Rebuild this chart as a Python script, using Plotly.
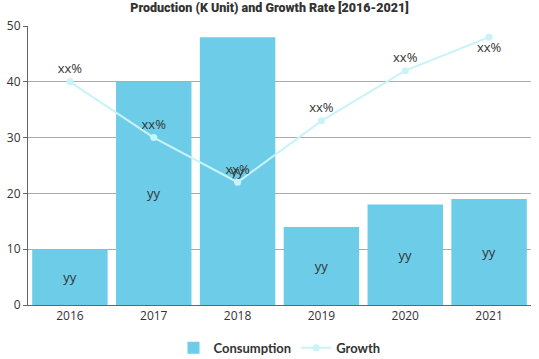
import plotly.graph_objects as go

years = ["2016", "2017", "2018", "2019", "2020", "2021"]
consumption = [10, 40, 48, 14, 18, 19]
growth = [40, 30, 22, 33, 42, 48]
bar_labels = ["yy", "yy", "yy", "yy", "yy", "yy"]
growth_labels = ["xx%", "xx%", "xx%", "xx%", "xx%", "xx%"]
growth_pos = ["top center", "top center", "top center", "top center", "top center", "bottom center"]

fig = go.Figure()
fig.add_trace(go.Bar(
    x=years, y=consumption, name="Consumption",
    marker=dict(color="#6dcde8", line=dict(width=0)),
    text=bar_labels, textposition="inside", insidetextanchor="middle",
    textfont=dict(color="#333333", size=13, family="Open Sans, sans-serif"),
))
fig.add_trace(go.Scatter(
    x=years, y=growth, name="Growth", mode="lines+markers+text",
    line=dict(color="#c8f3f8", width=2),
    marker=dict(color="#c8f3f8", size=7),
    text=growth_labels, textposition=growth_pos,
    textfont=dict(color="#333333", size=13, family="Open Sans, sans-serif"),
))

fig.update_layout(
    width=539, height=359,
    margin=dict(l=28, r=8, t=26, b=54, autoexpand=False),
    paper_bgcolor="white", plot_bgcolor="white",
    bargap=0.1,
    title=dict(text="Production (K Unit) and Growth Rate [2016-2021]",
               x=0.5, xanchor="center", y=1, yanchor="top", pad=dict(t=3),
               font=dict(family="Roboto, sans-serif", size=12.5, color="#333333", weight=900)),
    showlegend=True,
    legend=dict(orientation="h", x=0.5, xanchor="center", y=-0.1, yanchor="top",
                font=dict(family="Lato, sans-serif", size=13, color="#333333", weight=700),
                itemwidth=30),
    uniformtext=dict(mode=False),
)
fig.update_xaxes(showline=True, linecolor="#666666", linewidth=1, ticks="",
                 automargin=False,
                 tickfont=dict(family="Open Sans, sans-serif", size=12, color="#333333"))
fig.update_yaxes(range=[0, 50], dtick=10, showline=True, linecolor="#666666", linewidth=1,
                 ticks="outside", tickcolor="#666666", ticklen=4, automargin=False,
                 showgrid=True, gridcolor="#aaaaaa", gridwidth=1, zeroline=False,
                 tickfont=dict(family="Open Sans, sans-serif", size=12, color="#333333"))

fig.write_html("out.html", config={"displayModeBar": False},
               post_script="document.body.style.margin='0';")
